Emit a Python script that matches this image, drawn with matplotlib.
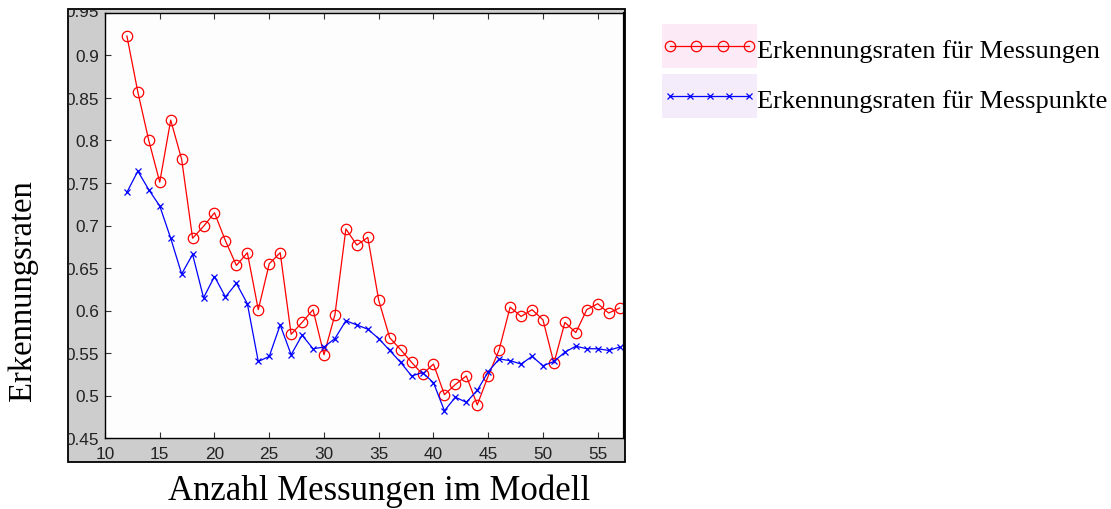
import numpy as np
import matplotlib
matplotlib.use('Agg')
import matplotlib.pyplot as plt
from matplotlib.patches import Rectangle
from matplotlib.legend_handler import HandlerLine2D
from matplotlib.transforms import Bbox, TransformedBbox, ScaledTranslation

# Erkennungsraten je Anzahl Messungen
anzahl = np.arange(12, 58)
rate_messungen = [0.923, 0.857, 0.800, 0.751, 0.824, 0.778, 0.685, 0.699, 0.715, 0.682,
                  0.653, 0.668, 0.601, 0.655, 0.668, 0.572, 0.586, 0.601, 0.548, 0.595,
                  0.696, 0.677, 0.686, 0.612, 0.568, 0.554, 0.539, 0.525, 0.537, 0.501,
                  0.513, 0.523, 0.489, 0.523, 0.554, 0.604, 0.593, 0.601, 0.589, 0.538,
                  0.586, 0.574, 0.601, 0.608, 0.597, 0.603]
rate_punkte = [0.739, 0.764, 0.742, 0.723, 0.685, 0.643, 0.666, 0.615, 0.640, 0.616,
               0.632, 0.608, 0.540, 0.546, 0.583, 0.548, 0.571, 0.555, 0.557, 0.567,
               0.588, 0.583, 0.578, 0.567, 0.553, 0.539, 0.523, 0.527, 0.515, 0.482,
               0.498, 0.492, 0.506, 0.528, 0.543, 0.541, 0.537, 0.546, 0.535, 0.540,
               0.551, 0.558, 0.555, 0.555, 0.553, 0.557]
yticks = [0.45, 0.5, 0.55, 0.6, 0.65, 0.7, 0.75, 0.8, 0.85, 0.9, 0.95]
xticks = [10, 15, 20, 25, 30, 35, 40, 45, 50, 55]

W, H = 1111, 510
fig = plt.figure(figsize=(W / 100, H / 100), dpi=100)

def px(x0, y0, x1, y1):
    # Pixelrechteck (oben links / unten rechts) -> Figurkoordinaten
    return [x0 / W, 1 - y1 / H, (x1 - x0) / W, (y1 - y0) / H]

# grauer Rahmen um das Diagramm
panel = px(68, 9.5, 625, 463)
fig.add_artist(Rectangle(panel[:2], panel[2], panel[3], transform=fig.transFigure,
                         facecolor='#cdcdcd', edgecolor='black', lw=1.3, zorder=-1))

ax = fig.add_axes(px(105, 14, 624, 439))
ax.set_facecolor('#fdfdfd')
l1, = ax.plot(anzahl, rate_messungen, '-o', color='red', lw=0.9, ms=7.5,
              mfc='none', mew=0.9)
l2, = ax.plot(anzahl, rate_punkte, '-x', color='blue', lw=0.9, ms=4.5, mew=0.9)

ax.set_xlim(10, 57.4)
ax.set_ylim(0.45, 0.95)
ax.set_xticks(xticks)
ax.set_yticks(yticks)
ax.set_xticklabels([str(t) for t in xticks])
ax.set_yticklabels(['%g' % t for t in yticks])
ax.tick_params(axis='x', direction='in', length=4, width=0.8, top=True,
               pad=6, labelsize=12.4, labelcolor='#222222', color='#333333')
ax.tick_params(axis='y', direction='in', length=4, width=0.8, right=False,
               pad=4.2, labelsize=12.4, labelcolor='#222222', color='#333333')
for lab in ax.get_xticklabels() + ax.get_yticklabels():
    lab.set_fontfamily('Liberation Sans')
for sp in ax.spines.values():
    sp.set_linewidth(1.0)
ax.spines['right'].set_linewidth(1.6)

# Beschriftungen, die ueber den Rahmen ragen, abschneiden
clip = TransformedBbox(Bbox.from_bounds(*panel), fig.transFigure)
yt = ax.yaxis.get_major_ticks()
for tick in yt + ax.xaxis.get_major_ticks():
    tick.label1.set_clip_box(clip)
    tick.label1.set_clip_on(True)
# oberste Beschriftung sitzt etwas hoeher
top = yt[-1].label1
top.set_transform(top.get_transform() + ScaledTranslation(0, 2.5 / 100, fig.dpi_scale_trans))

fig.text(23 / W, 1 - 291 / H, 'Erkennungsraten', rotation=90, ha='center', va='center',
         family='Liberation Serif', fontsize=23.5)
fig.text(379 / W, 1 - 491 / H, 'Anzahl Messungen im Modell', ha='center', va='center',
         family='Liberation Serif', fontsize=25)


class TintedHandler(HandlerLine2D):
    def __init__(self, tint, **kw):
        super().__init__(**kw)
        self.tint = tint

    def create_artists(self, legend, orig_handle, xdescent, ydescent, width, height,
                       fontsize, trans):
        arts = super().create_artists(legend, orig_handle, xdescent, ydescent, width,
                                      height, fontsize, trans)
        # heller Hintergrund hinter dem Symbol, um die Linie zentriert
        yc = (height - ydescent) / 2
        hh = 1.65 * fontsize
        bg = Rectangle((-xdescent, yc - hh / 2), width, hh, facecolor=self.tint,
                       edgecolor='none', transform=trans)
        return [bg] + list(arts)


fig.legend([l1, l2], ['Erkennungsraten für Messungen', 'Erkennungsraten für Messpunkte'],
           loc='upper left', bbox_to_anchor=(662 / W, 1 - 36 / H),
           bbox_transform=fig.transFigure, frameon=False, borderpad=0, borderaxespad=0,
           handlelength=3.6, handleheight=1.2, handletextpad=0.0, labelspacing=0.85,
           prop={'family': 'Liberation Serif', 'size': 19},
           handler_map={l1: TintedHandler('#fcebf6', numpoints=4),
                        l2: TintedHandler('#f4ecfb', numpoints=5)})

fig.savefig('out.png', dpi=100)
